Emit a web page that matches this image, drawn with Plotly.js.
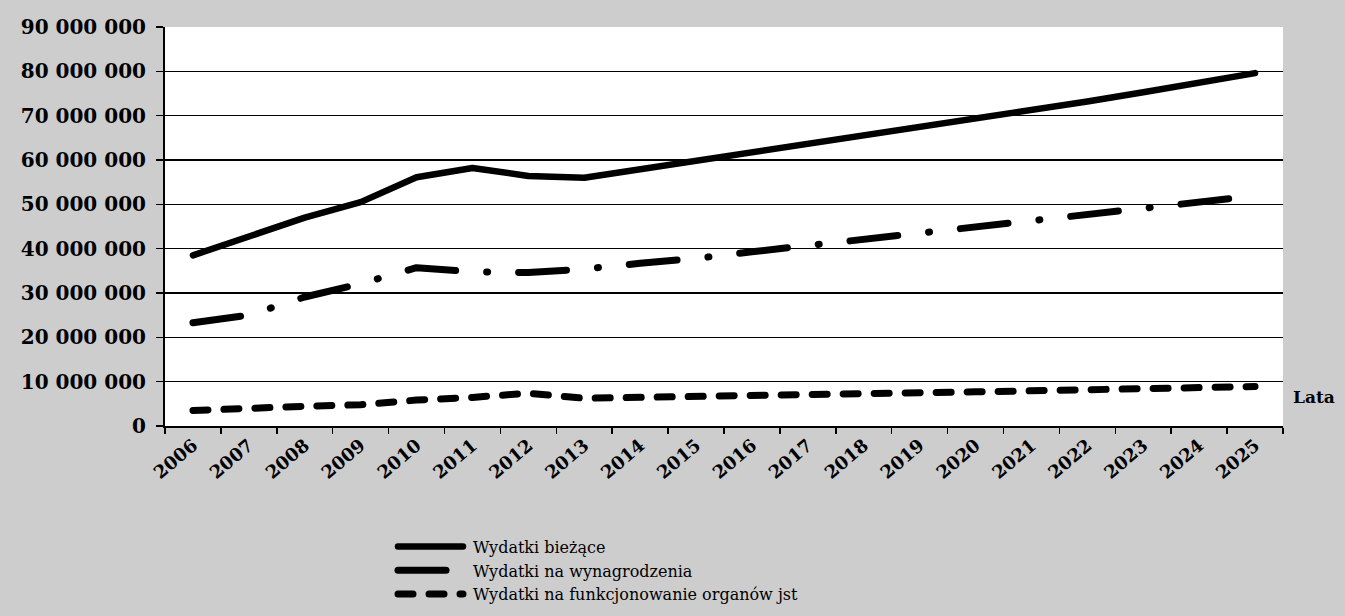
<!DOCTYPE html>
<html><head><meta charset="utf-8">
<script src="https://cdn.plot.ly/plotly-3.0.1.min.js"></script>
<style>
html,body{margin:0;padding:0;background:#cdcdcd;}
#chart{width:1345px;height:616px;}
.scatterlayer .js-line{stroke-linecap:round;stroke-linejoin:round;}
.legend .legendlines path{stroke-linecap:round;}
</style></head><body><div id="chart"></div>
<script>
const years = ['2006','2007','2008','2009','2010','2011','2012','2013','2014','2015','2016','2017','2018','2019','2020','2021','2022','2023','2024','2025'];
const wydatkiBiezace = [38500000,42600000,47000000,50500000,56100000,58200000,56400000,56000000,57900000,59900000,61700000,63500000,65400000,67300000,69200000,71200000,73200000,75300000,77400000,79600000];
const wydatkiWynagrodzenia = [23300000,25000000,29100000,32100000,35700000,34800000,34600000,35400000,36700000,37800000,39300000,40700000,42000000,43300000,44800000,46000000,47400000,48800000,50500000,51900000];
const wydatkiOrganow = [3500000,3800000,4450000,4800000,5850000,6450000,7400000,6250000,6400000,6550000,6800000,7000000,7250000,7500000,7700000,7950000,8200000,8400000,8700000,8900000];
const seriesNames = ['Wydatki bieżące','Wydatki na wynagrodzenia','Wydatki na funkcjonowanie organów jst'];
const yTickVals = [0,10000000,20000000,30000000,40000000,50000000,60000000,70000000,80000000,90000000];
const xAxisLabel = 'Lata';

const traces = [
  {x: years, y: wydatkiBiezace, name: seriesNames[0], type:'scatter', mode:'lines', line:{color:'#000', width:6.5}},
  {x: years, y: wydatkiWynagrodzenia, name: seriesNames[1], type:'scatter', mode:'lines', line:{color:'#000', width:7, dash:'48px,31px,1px,31px'}},
  {x: years, y: wydatkiOrganow, name: seriesNames[2], type:'scatter', mode:'lines', line:{color:'#000', width:7, dash:'15px,16px'}}
];

const layout = {
  width:1345, height:616,
  paper_bgcolor:'#cdcdcd', plot_bgcolor:'#ffffff',
  margin:{l:165, r:62, t:27, b:190, autoexpand:false},
  separators:', ',
  font:{family:'DejaVu Serif', color:'#000'},
  showlegend:true,
  hovermode:false,
  legend:{xref:'container', yref:'container', x:0.2922, y:0.1403, xanchor:'left', yanchor:'top', orientation:'v',
          font:{size:16, family:'DejaVu Serif', color:'#000'}, bgcolor:'rgba(0,0,0,0)', itemwidth:70, traceorder:'normal'},
  xaxis:{type:'category', range:[-0.5, 19.5], automargin:false, tickson:'boundaries', ticks:'outside', ticklen:6, tickwidth:1.5, tickcolor:'#000',
         showline:true, linecolor:'#000', linewidth:2, tickangle:-40, showgrid:false,
         tickfont:{family:'DejaVu Serif', size:18, weight:'bold', color:'#000'}},
  yaxis:{range:[0,90000000], automargin:false, tickvals:yTickVals, tickformat:',d', ticks:'outside', ticklen:7, tickwidth:1.5, tickcolor:'#000',
         showline:true, linecolor:'#000', linewidth:2, gridcolor:'#000', gridwidth:1.5, zeroline:false,
         ticklabelstandoff:6,
         tickfont:{family:'DejaVu Serif', size:20, weight:'bold', color:'#000'}},
  annotations:[{text:xAxisLabel, xref:'paper', yref:'paper', x:1.0277, y:0.0727, xanchor:'center', yanchor:'middle',
                showarrow:false, font:{family:'DejaVu Serif', size:17, weight:'bold', color:'#000'}}]
};

Plotly.newPlot('chart', traces, layout, {staticPlot:true, displayModeBar:false}).then(function(gd){
  gd.querySelectorAll('.legend .legendlines path').forEach(function(p){ p.setAttribute('d','M5,0h65'); });
});
</script></body></html>
